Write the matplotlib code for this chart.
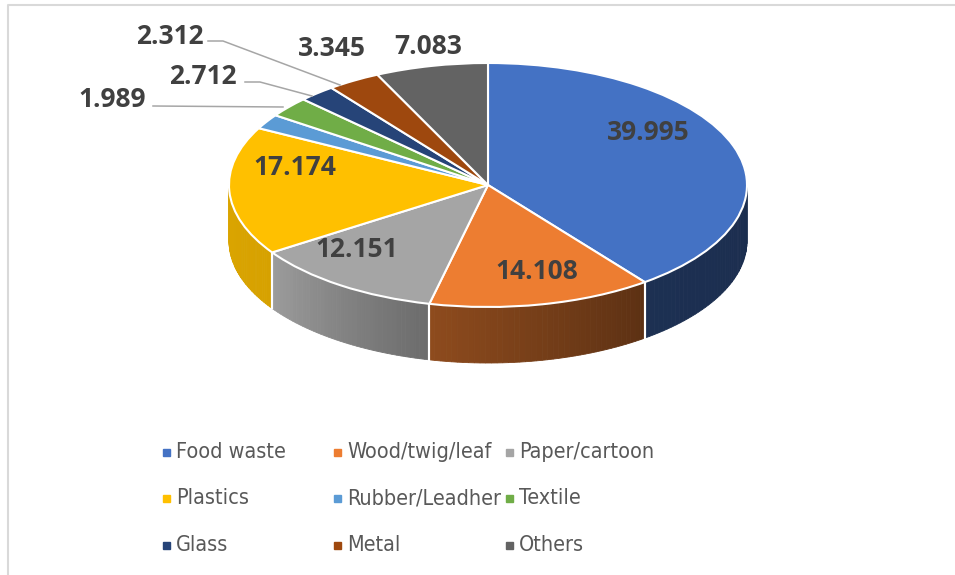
import numpy as np
import matplotlib.pyplot as plt
from matplotlib import font_manager
from matplotlib.colors import to_rgb
from matplotlib.lines import Line2D
from matplotlib.patches import Rectangle

plt.rcParams['font.family'] = ['Open Sans', 'DejaVu Sans']

# Data
categories = ['Food waste', 'Wood/twig/leaf', 'Paper/cartoon', 'Plastics', 'Rubber/Leadher',
              'Textile', 'Glass', 'Metal', 'Others']
values = [39.995, 14.108, 12.151, 17.174, 1.989, 2.712, 2.312, 3.345, 7.083]
colors = ['#4472C4', '#ED7D31', '#A5A5A5', '#FFC000', '#5B9BD5',
          '#70AD47', '#264478', '#9E480E', '#636363']

# shading of the side wall (left edge, right edge) for each slice
wall_shade = [(0.42, 0.40), (0.60, 0.39), (0.95, 0.65), (0.86, 0.84), (0.8, 0.8),
              (0.8, 0.8), (0.8, 0.8), (0.8, 0.8), (0.8, 0.8)]

# label positions in image pixels (x, y from top)
label_pos = [(648, 133), (537, 272), (357, 250), (295, 168), (112, 100),
             (203, 77), (170, 36), (332, 48), (428, 46)]
leaders = {4: [(153, 106), (283, 107)],
           5: [(245, 82), (260, 82), (312, 96)],
           6: [(208, 41), (223, 41), (340, 85)]}

W, H = 955, 575
CX, CY, RX, RY, DEPTH = 488, 185, 259, 122, 56


def px(x, y):
    return (x - CX) / RX, (CY - y) / RY


# narrow font for the legend if available
cond = font_manager.FontProperties(family='DejaVu Sans', stretch='condensed', size=15.5)
if 'Condensed' not in font_manager.findfont(cond):
    cond = font_manager.FontProperties(family='Roboto', size=15)

fig = plt.figure(figsize=(W / 100, H / 100), dpi=100)
ax = fig.add_axes([0, 0, 1, 1])

wedges, _ = ax.pie(values, colors=colors, startangle=90, counterclock=False,
                   radius=1, center=(0, 0), frame=False,
                   wedgeprops=dict(edgecolor='white', linewidth=1.5, zorder=3))
ax.set_aspect('auto')
ax.set_xlim(-CX / RX, (W - CX) / RX)
ax.set_ylim(-(H - CY) / RY, CY / RY)
ax.axis('off')

d = DEPTH / RY

# side walls of the front half
for i, w in enumerate(wedges):
    a, b = w.theta1, w.theta2
    for shift in (0, 360):
        lo, hi = max(a + shift, 180), min(b + shift, 360)
        if hi <= lo:
            continue
        base = np.array(to_rgb(colors[i]))
        n = 40
        edges = np.linspace(lo, hi, n + 1)
        f0, f1 = wall_shade[i]
        for k in range(n):
            t = np.radians(np.linspace(edges[k], edges[k + 1], 4))
            x = np.cos(t)
            y = np.sin(t)
            # left of slice = larger angle
            frac = 1 - (k + 0.5) / n
            f = f1 + (f0 - f1) * frac
            c = np.clip(base * f, 0, 1)
            ax.fill(np.r_[x, x[::-1]], np.r_[y, y[::-1] - d], color=c,
                    lw=0.6, ec=c, zorder=1)
        for ang in (lo, hi):
            if 180 < ang < 360:
                t = np.radians(ang)
                ax.plot([np.cos(t)] * 2, [np.sin(t), np.sin(t) - d],
                        color='white', lw=1.5, zorder=2)

# data labels
for i, v in enumerate(values):
    x, y = px(*label_pos[i])
    ax.text(x, y, f'{v:.3f}', ha='center', va='center', fontsize=19,
            fontweight='bold', color='#404040', zorder=5)

for i, pts in leaders.items():
    xy = np.array([px(*p) for p in pts])
    ax.plot(xy[:, 0], xy[:, 1], color='#a6a6a6', lw=1.1, zorder=4)

# legend
col_x = [163, 334, 506]
row_y = [452, 498, 545]
for i, lab in enumerate(categories):
    r, c = divmod(i, 3)
    fig.add_artist(Rectangle((col_x[c], H - row_y[r] - 3.5), 7, 7,
                             transform=None, color=colors[i]))
    fig.text((col_x[c] + 13) / W, 1 - row_y[r] / H, lab, ha='left', va='center',
             color='#595959', fontproperties=cond)

# chart border (top and left visible)
fig.add_artist(Line2D([8 / W, 8 / W, 1], [0, 1 - 4.5 / H, 1 - 4.5 / H],
                      color='#d9d9d9', lw=1.5))

fig.savefig('out.png', dpi=100)
